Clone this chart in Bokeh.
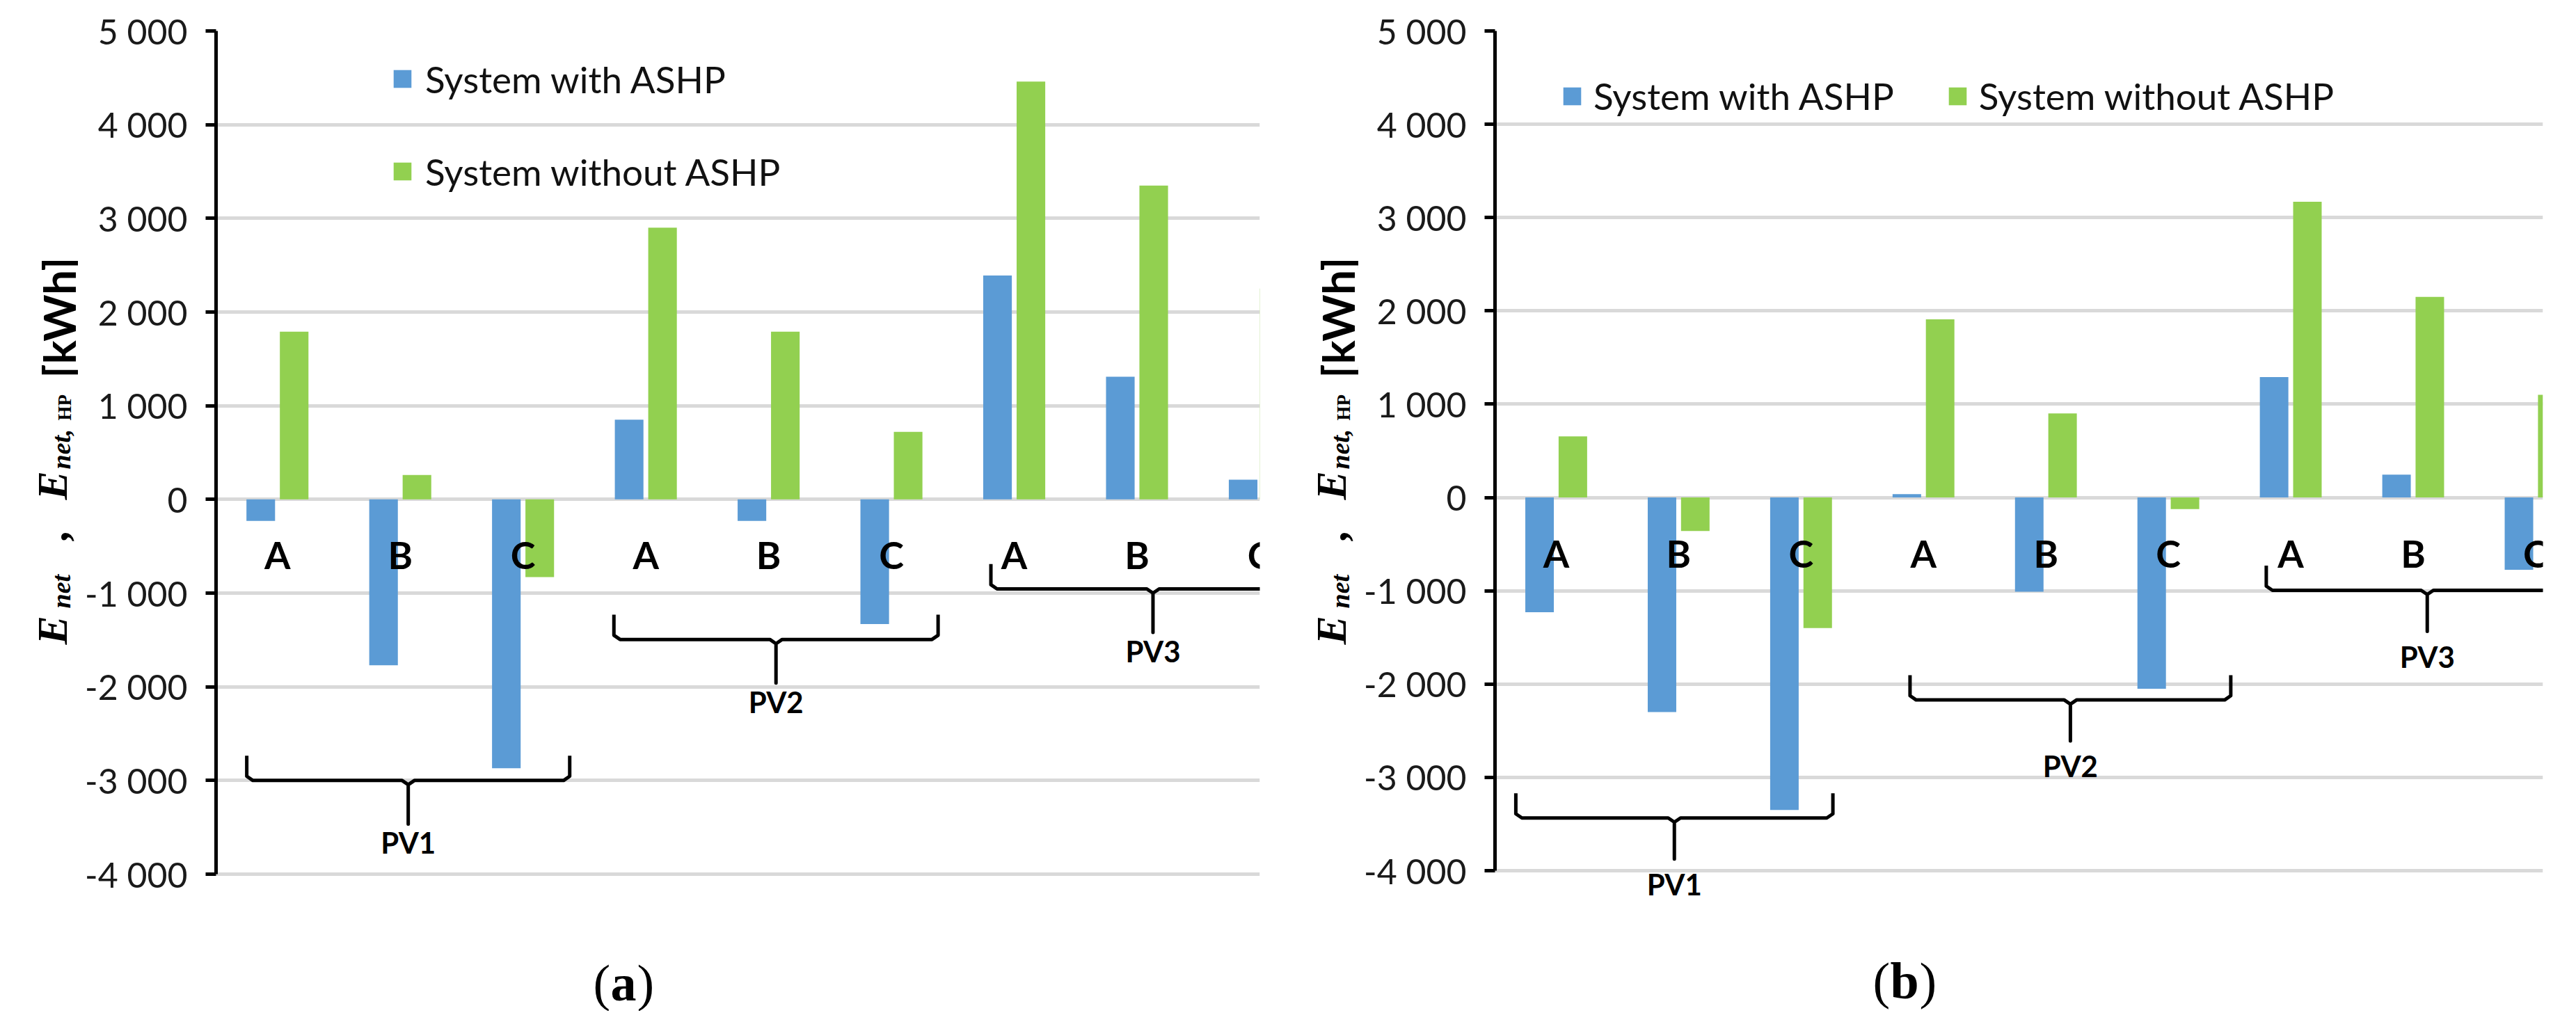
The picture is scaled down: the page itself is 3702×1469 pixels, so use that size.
import numpy as np
from bokeh.plotting import figure
from bokeh.layouts import row
from bokeh.models import Range1d, FixedTicker, Label, ColumnDataSource, Legend, LegendItem
from bokeh.core.properties import value
from bokeh.embed import file_html
from bokeh.resources import INLINE

# ---------------- data ----------------
categories = ["A", "B", "C", "A", "B", "C", "A", "B", "C"]
groups = ["PV1", "PV2", "PV3"]
series_names = ["System with ASHP", "System without ASHP"]

with_ashp_a = [-230, -1770, -2870, 850, -230, -1330, 2390, 1310, 210]
without_ashp_a = [1790, 260, -830, 2900, 1790, 720, 4460, 3350, 2250]

with_ashp_b = [-1230, -2300, -3350, 35, -1010, -2050, 1290, 245, -775]
without_ashp_b = [655, -360, -1400, 1910, 900, -125, 3170, 2150, 1100]

y_ticks = [-4000, -3000, -2000, -1000, 0, 1000, 2000, 3000, 4000, 5000]
y_tick_labels = ["-4 000", "-3 000", "-2 000", "-1 000", "0", "1 000", "2 000", "3 000", "4 000", "5 000"]

# brace annotation parameters (category-index span, level in kWh)
brace_a_start = [-0.25, 2.74, 5.81]
brace_a_end = [2.38, 5.38, 8.45]
brace_a_level = [-3000, -1495, -955]
brace_b_start = [-0.33, 2.89, 5.80]
brace_b_end = [2.26, 5.51, 8.43]
brace_b_level = [-3435, -2170, -995]

BLUE = "#5B9BD5"
GREEN = "#92D050"
SANS = "Lato"
SERIF = "Liberation Serif"
FIG_H = 1453


def brace_path(x0, x1, y, hook, stem, rx=0.05, ry=45):
    xc = (x0 + x1) / 2.0
    xs = [x0, x0, x0 + rx, xc - rx, xc, xc, xc, xc + rx, x1 - rx, x1, x1]
    ys = [y + hook, y + ry, y, y, y - ry, y - stem, y - ry, y, y, y + ry, y + hook]
    return xs, ys


def title_strip(width, xshift):
    """Narrow figure holding the composed, rotated y-axis title."""
    t = figure(frame_width=width, frame_height=FIG_H, min_border=0,
               x_range=Range1d(0, 1), y_range=Range1d(0, 1),
               x_axis_type=None, y_axis_type=None,
               output_backend="svg", toolbar_location=None)
    t.outline_line_color = None
    t.xgrid.visible = False
    t.ygrid.visible = False
    # (text, baseline x, start y) in strip pixels measured from bottom-left
    pieces = [
        ("E", 74, 571, SERIF, "bold italic", "62px"),
        ("net", 87, 623, SERIF, "bold italic", "38px"),
        (",", 76, 721, SERIF, "bold italic", "62px"),
        ("E", 74, 779, SERIF, "bold italic", "62px"),
        ("net,", 87, 823, SERIF, "bold italic", "38px"),
        ("HP", 92, 893, SERIF, "bold", "27px"),
        ("[kWh]", 84, 954, SANS, "bold", "64px"),
    ]
    for txt, sx, sy, font, style, size in pieces:
        t.add_layout(Label(x=sx + xshift, y=sy, x_units="screen", y_units="screen", text=txt,
                           angle=np.pi / 2, text_font=font, text_font_style=style,
                           text_font_size=size, text_align="left",
                           text_baseline="alphabetic", text_color="black"))
    return t


def make_panel(with_vals, without_vals, b_start, b_end, b_level, x_end,
               border_left, border_right, border_top, top_px, bottom_px,
               frame_w, legend_cfg, caption, stem, label_gap):
    # plot area: 5000 at top_px, -4000 at bottom_px (page pixels); frame runs to page bottom
    px_per_unit = (bottom_px - top_px) / 9000.0
    frame_h = FIG_H - border_top
    y_low = -4000 - (8 + FIG_H - bottom_px) / px_per_unit
    p = figure(frame_width=frame_w, frame_height=frame_h,
               min_border_left=border_left, min_border_right=border_right,
               min_border_top=border_top, min_border_bottom=0,
               x_range=Range1d(-0.5, x_end), y_range=Range1d(y_low, 5000),
               output_backend="svg", toolbar_location=None)
    p.outline_line_color = None
    p.background_fill_color = "white"
    p.border_fill_color = "white"
    p.xaxis.visible = False
    p.xgrid.visible = False
    p.ygrid.grid_line_color = "#D9D9D9"
    p.ygrid.grid_line_width = 5
    p.ygrid.ticker = FixedTicker(ticks=y_ticks)
    ax = p.yaxis[0]
    ax.ticker = FixedTicker(ticks=y_ticks)
    ax.bounds = (-4000, 5000)
    ax.major_label_overrides = {t: l for t, l in zip(y_ticks, y_tick_labels)}
    ax.axis_line_width = 5
    ax.axis_line_color = "black"
    ax.major_tick_line_width = 5
    ax.major_tick_line_color = "black"
    ax.major_tick_out = 15
    ax.major_tick_in = 0
    ax.minor_tick_line_color = None
    ax.major_label_text_font = SANS
    ax.major_label_text_font_size = "50px"
    ax.major_label_text_color = "#1a1a1a"
    ax.major_label_standoff = 26

    idx = np.arange(len(categories))
    src = ColumnDataSource(dict(x=idx, cat=categories, zero=[0] * len(categories)))
    rb = p.vbar(x=idx - 0.136, top=with_vals, bottom=0, width=0.233,
                fill_color=BLUE, line_color=None)
    rg = p.vbar(x=idx + 0.136, top=without_vals, bottom=0, width=0.233,
                fill_color=GREEN, line_color=None)

    # category labels just below the zero line
    p.text(x="x", y="zero", text="cat", source=src, y_offset=80,
           text_font=value(SANS), text_font_style="bold", text_font_size="54px",
           text_align="center", text_baseline="middle", text_color="black")

    # braces and group labels
    stems_x, labels_y = [], []
    for s, e, lv in zip(b_start, b_end, b_level):
        xs, ys = brace_path(s, e, lv, 265, stem)
        p.line(xs, ys, line_color="black", line_width=5, line_join="round")
        stems_x.append((s + e) / 2.0)
        labels_y.append(lv - stem - label_gap)
    p.text(x=stems_x, y=labels_y, text=groups,
           text_font=value(SANS), text_font_style="bold", text_font_size="42px",
           text_align="center", text_baseline="middle", text_color="black")

    legend = Legend(items=[LegendItem(label=series_names[0], renderers=[rb]),
                           LegendItem(label=series_names[1], renderers=[rg])],
                    location=legend_cfg["location"], orientation=legend_cfg["orientation"],
                    glyph_width=32, glyph_height=32, label_standoff=legend_cfg["standoff"],
                    spacing=legend_cfg["spacing"], padding=0, margin=0,
                    border_line_color=None, background_fill_alpha=0,
                    label_text_font=SANS, label_text_font_size="53px",
                    label_text_color="#111111")
    p.add_layout(legend)

    # caption "(a)" / "(b)" inside the extended frame, below the axis
    cx, cy, letter = caption
    lw = 38 if letter == "a" else 42
    for txt, dx, style in [("(", 0, "normal"), (letter, 25, "bold"), (")", 25 + lw, "normal")]:
        p.add_layout(Label(x=cx + dx, y=cy, x_units="screen", y_units="screen", text=txt,
                           text_font=SERIF, text_font_style=style, text_font_size="74px",
                           text_align="left", text_baseline="alphabetic", text_color="black"))
    return p


t1 = title_strip(112, 0)
p1 = make_panel(with_ashp_a, without_ashp_a, brace_a_start, brace_a_end, brace_a_level, 8.0,
                198, 30, 41, 49, 1261, 1500,
                dict(location=(252, 1148), orientation="vertical", standoff=17, spacing=70),
                (542, 44, "a"), 465, 200)
t2 = title_strip(112, -2)
p2 = make_panel(with_ashp_b, without_ashp_b, brace_b_start, brace_b_end, brace_b_level, 8.06,
                196, 24, 44, 52, 1259, 1506,
                dict(location=(95, 1284), orientation="horizontal", standoff=15, spacing=75),
                (543, 44, "b"), 440, 270)

layout = row(t1, p1, t2, p2)
open("out.html", "w").write(file_html(layout, INLINE))
